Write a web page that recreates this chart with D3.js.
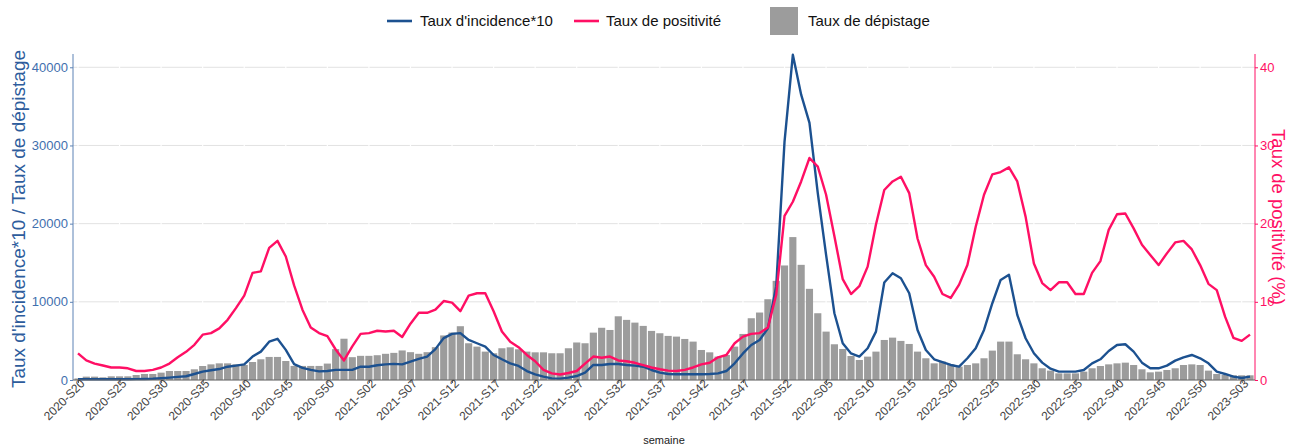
<!DOCTYPE html>
<html>
<head>
<meta charset="UTF-8" />
<title>Taux hebdomadaires</title>
<script src="https://d3js.org/d3.v7.min.js"></script>
<style>
  body { margin: 0; background: #fff; }
  text { font-family: "Liberation Sans", Arial, sans-serif; }
</style>
</head>
<body>
<script type="text/javascript">

// semaines : annee, premiere et derniere semaine
var weekRanges = [[2020, 20, 53], [2021, 1, 52], [2022, 1, 52], [2023, 1, 4]]

var tickLabels = ["2020-S20","2020-S25","2020-S30","2020-S35","2020-S40","2020-S45","2020-S50",
  "2021-S02","2021-S07","2021-S12","2021-S17","2021-S22","2021-S27","2021-S32","2021-S37",
  "2021-S42","2021-S47","2021-S52","2022-S05","2022-S10","2022-S15","2022-S20","2022-S25",
  "2022-S30","2022-S35","2022-S40","2022-S45","2022-S50","2023-S03"]

var depistage = [200,430,430,340,470,470,470,640,770,770,
  940,1150,1150,1150,1370,1790,2000,2130,2130,2000,
  1920,2300,2650,2950,2950,2430,1800,1800,1800,1800,
  2100,3950,5280,2920,3090,3090,3170,3350,3470,3780,
  3560,3350,3560,4200,5700,6070,6880,4700,4270,3630,
  3420,4060,4180,3930,3630,3540,3540,3420,3420,4060,
  4800,4700,6060,6680,6400,8150,7690,7340,6920,6280,
  5980,5640,5550,5250,4910,3840,3540,2990,3200,4270,
  5890,7900,8630,10330,12680,14650,18280,14730,11660,8540,
  6190,4570,3970,3070,2560,2990,3630,5120,5420,5000,
  4610,3630,2780,2130,2350,2000,1710,1920,2130,2780,
  3760,4910,4910,3290,2650,2130,1500,1200,850,850,
  850,1070,1500,1790,2000,2130,2220,1920,1370,980,
  1070,1280,1500,1920,2000,1920,1200,770,640,600,
  600,600]

var incidence10 = [100,100,100,100,90,90,100,110,130,160,
  220,300,400,480,770,1070,1240,1400,1700,1840,
  2000,3000,3630,4900,5270,3850,2030,1550,1300,1100,
  1150,1290,1290,1290,1700,1700,1890,2000,2060,2000,
  2360,2700,3000,3950,5360,5900,6000,5120,4700,4270,
  3200,2650,2130,1800,1150,730,430,210,170,300,
  510,940,1920,1920,2050,2050,1920,1840,1700,1280,
  940,770,730,730,730,730,770,850,1150,2130,
  3400,4480,5120,6620,12000,30500,41600,36500,32900,23900,
  16000,8540,4700,3400,3000,4060,6190,12470,13660,13020,
  11100,6400,3840,2650,2300,1920,1710,2780,4060,6400,
  9820,12800,13450,8330,5340,3420,2220,1450,1070,1070,
  1070,1280,2130,2650,3710,4480,4570,3630,2220,1500,
  1500,1840,2480,2900,3200,2780,2130,1070,770,430,
  250,430]

var positivite = [3.4,2.5,2.1,1.85,1.6,1.6,1.5,1.15,1.15,1.3,
  1.6,2.1,2.9,3.6,4.5,5.8,6.0,6.6,7.7,9.2,
  10.8,13.7,13.9,16.9,17.8,15.8,12.1,9.0,6.7,6.0,
  5.6,3.9,2.5,4.3,5.9,6.0,6.3,6.2,6.3,5.5,
  7.2,8.6,8.6,9.0,10.1,9.9,8.8,10.8,11.1,11.1,
  8.8,6.2,4.9,4.2,3.2,2.4,1.3,0.85,0.7,0.9,
  1.15,2.1,3.0,2.85,3.0,2.5,2.4,2.2,1.9,1.6,
  1.37,1.2,1.15,1.3,1.6,2.0,2.2,2.9,3.2,4.7,
  5.55,5.9,6.0,6.7,10.9,21.0,22.8,25.4,28.4,27.3,
  23.7,18.4,12.9,11.0,12.0,14.5,19.9,24.3,25.4,26.0,
  23.9,18.1,14.7,13.2,11.0,10.5,12.2,14.7,19.6,23.7,
  26.3,26.6,27.2,25.4,20.9,14.9,12.4,11.5,12.5,12.5,
  11.0,11.0,13.7,15.2,19.2,21.2,21.3,19.4,17.3,16.0,
  14.7,16.2,17.6,17.8,16.7,14.7,12.3,11.5,8.1,5.4,
  5.0,5.8]

var leftTicks = [0, 10000, 20000, 30000, 40000]
var rightTicks = [0, 10, 20, 30, 40]

var blue = "#1c5190"
var pink = "#ff0f64"
var barGrey = "#9c9c9c"

var weeks = []
weekRanges.forEach(function(r) {
  for (var w = r[1]; w <= r[2]; w++) {
    weeks.push(r[0] + "-S" + (w < 10 ? "0" + w : w))
  }
})

var width = 1290
var height = 448
var margin = {left: 73, right: 1255, top: 54, bottom: 380}

var svg = d3.select("body").append("svg")
  .attr("width", width)
  .attr("height", height)

var x = d3.scalePoint()
  .domain(weeks)
  .range([margin.left, margin.right])
  .padding(0.6)

var y = d3.scaleLinear()
  .domain([0, 41700])
  .range([margin.bottom, margin.top])

// positivite en %, meme echelle : 1 % = 1000
var y2 = d3.scaleLinear()
  .domain([0, 41.7])
  .range([margin.bottom, margin.top])

// grille
svg.append("g")
  .selectAll("line")
  .data(leftTicks)
  .enter().append("line")
  .attr("x1", margin.left).attr("x2", margin.right)
  .attr("y1", d => y(d)).attr("y2", d => y(d))
  .attr("stroke", "#e2e2e2")
  .attr("stroke-width", 1)

svg.append("g")
  .selectAll("line")
  .data(tickLabels)
  .enter().append("line")
  .attr("x1", d => x(d)).attr("x2", d => x(d))
  .attr("y1", margin.top).attr("y2", margin.bottom)
  .attr("stroke", "#ffffff")
  .attr("stroke-width", 1.2)

// barres
var bw = x.step() * 0.86
svg.append("g")
  .selectAll("rect")
  .data(depistage)
  .enter().append("rect")
  .attr("x", (d, i) => x(weeks[i]) - bw / 2)
  .attr("y", d => y(d))
  .attr("width", bw)
  .attr("height", d => y(0) - y(d))
  .attr("fill", barGrey)

// courbes
var lineInc = d3.line()
  .x((d, i) => x(weeks[i]))
  .y(d => y(d))

var linePos = d3.line()
  .x((d, i) => x(weeks[i]))
  .y(d => y2(d))

svg.append("path")
  .datum(incidence10)
  .attr("d", lineInc)
  .attr("fill", "none")
  .attr("stroke", blue)
  .attr("stroke-width", 2.4)
  .attr("stroke-linejoin", "round")

svg.append("path")
  .datum(positivite)
  .attr("d", linePos)
  .attr("fill", "none")
  .attr("stroke", pink)
  .attr("stroke-width", 2.4)
  .attr("stroke-linejoin", "round")

// axe gauche
var gLeft = svg.append("g")
  .attr("transform", "translate(" + margin.left + ",0)")
  .call(d3.axisLeft(y).tickValues(leftTicks).tickFormat(d3.format("d")).tickSize(3).tickPadding(2))
gLeft.select(".domain").attr("stroke", "#5d82b5").attr("d", "M0," + margin.top + "V" + margin.bottom)
gLeft.selectAll(".tick line").attr("stroke", "#5d82b5")
gLeft.selectAll(".tick text").attr("fill", "#3f6fae").style("font-size", "13px")
  .style("font-family", "Liberation Sans, Arial, sans-serif")

// axe droit
var gRight = svg.append("g")
  .attr("transform", "translate(" + margin.right + ",0)")
  .call(d3.axisRight(y2).tickValues(rightTicks).tickSize(3).tickPadding(2))
gRight.select(".domain").attr("stroke", pink).attr("d", "M0," + margin.top + "V" + margin.bottom)
gRight.selectAll(".tick line").attr("stroke", pink)
gRight.selectAll(".tick text").attr("fill", pink).style("font-size", "13px")
  .style("font-family", "Liberation Sans, Arial, sans-serif")

// axe x
var gx = svg.append("g")
  .attr("transform", "translate(0," + margin.bottom + ")")
  .call(d3.axisBottom(x).tickValues(tickLabels).tickSize(3).tickSizeOuter(0))
gx.select(".domain").attr("stroke", "#666").attr("d", "M" + margin.left + ",0H" + margin.right)
gx.selectAll(".tick line").attr("stroke", "#555")
gx.selectAll(".tick text")
  .attr("fill", "#444")
  .style("font-size", "12px")
  .style("font-family", "Liberation Sans, Arial, sans-serif")
  .attr("text-anchor", "end")
  .attr("dy", null)
  .attr("x", 2)
  .attr("y", 8)
  .attr("transform", "rotate(-45)")

svg.append("text")
  .attr("x", (margin.left + margin.right) / 2)
  .attr("y", 444)
  .attr("text-anchor", "middle")
  .style("font-size", "11px")
  .attr("fill", "#222")
  .text("semaine")

// titres des axes
svg.append("text")
  .attr("transform", "translate(25," + ((margin.top + margin.bottom) / 2 + 2) + ") rotate(-90)")
  .attr("text-anchor", "middle")
  .style("font-size", "19px")
  .attr("fill", "#2d5c9c")
  .text("Taux d'incidence*10 / Taux de dépistage")

svg.append("text")
  .attr("transform", "translate(1272," + ((margin.top + margin.bottom) / 2) + ") rotate(90)")
  .attr("text-anchor", "middle")
  .style("font-size", "18.5px")
  .attr("fill", pink)
  .text("Taux de positivité (%)")

// legende
var leg = svg.append("g")
leg.append("line").attr("x1", 387).attr("x2", 412).attr("y1", 21).attr("y2", 21)
  .attr("stroke", blue).attr("stroke-width", 2.6)
leg.append("text").attr("x", 420).attr("y", 26).style("font-size", "15px").attr("fill", "#111")
  .text("Taux d'incidence*10")
leg.append("line").attr("x1", 574).attr("x2", 599).attr("y1", 21).attr("y2", 21)
  .attr("stroke", pink).attr("stroke-width", 2.6)
leg.append("text").attr("x", 606).attr("y", 26).style("font-size", "15px").attr("fill", "#111")
  .text("Taux de positivité")
leg.append("rect").attr("x", 770).attr("y", 7).attr("width", 28).attr("height", 28)
  .attr("fill", barGrey)
leg.append("text").attr("x", 808).attr("y", 26).style("font-size", "15px").attr("fill", "#111")
  .text("Taux de dépistage")

</script>
</body>
</html>
